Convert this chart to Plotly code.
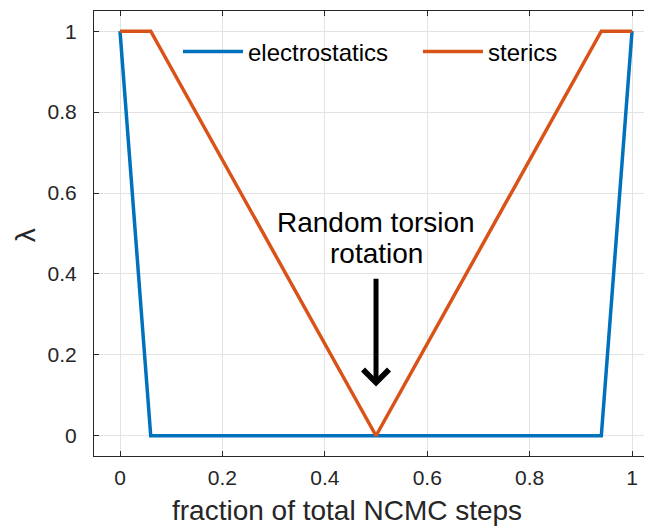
import plotly.graph_objects as go

# fraction of total NCMC steps vs lambda
elec_x = [0, 0.06, 0.94, 1]
elec_y = [1, 0, 0, 1]
ster_x = [0, 0.06, 0.5, 0.94, 1]
ster_y = [1, 1, 0, 1, 1]

tick_vals = [0, 0.2, 0.4, 0.6, 0.8, 1]
tick_text = ["0", "0.2", "0.4", "0.6", "0.8", "1"]

font = "Liberation Sans, Arial, Helvetica, sans-serif"
axis_col = "#262626"

fig = go.Figure()
fig.add_trace(go.Scatter(x=elec_x, y=elec_y, mode="lines", name="electrostatics",
                         line=dict(color="#0072BD", width=3.5), legend="legend"))
fig.add_trace(go.Scatter(x=ster_x, y=ster_y, mode="lines", name="sterics",
                         line=dict(color="#D95319", width=3.5), legend="legend2"))

# arrow + label (two lines, MATLAB spacing)
fig.add_annotation(x=0.5, y=0.122, ax=0.5, ay=0.392, xref="x", yref="y",
                   axref="x", ayref="y", text="", showarrow=True,
                   arrowhead=4, arrowsize=1, arrowwidth=5, arrowcolor="black")
fig.add_annotation(x=0.5, y=0.527, xref="x", yref="y", yanchor="middle",
                   text="Random torsion", showarrow=False,
                   font=dict(family=font, size=28, color="black"))
fig.add_annotation(x=0.5, y=0.451, xref="x", yref="y", yanchor="middle",
                   text="rotation", showarrow=False,
                   font=dict(family=font, size=28, color="black"))

# axis titles
fig.add_annotation(x=0.453, y=-0.122, xref="paper", yref="paper",
                   xanchor="center", yanchor="middle", showarrow=False,
                   text="fraction of total NCMC steps",
                   font=dict(family=font, size=28, color=axis_col))
fig.add_annotation(x=-0.123, y=0.497, xref="paper", yref="paper",
                   xanchor="center", yanchor="middle", showarrow=False,
                   text="λ", textangle=-90,
                   font=dict(family=font, size=28, color=axis_col))

leg = dict(orientation="h", y=0.908, xanchor="left", yanchor="middle",
           bgcolor="rgba(0,0,0,0)", font=dict(size=24, color="black"), itemwidth=60)

# page body has an 8px margin, so the figure is shrunk by 8px
fig.update_layout(
    width=644, height=518,
    margin=dict(l=86, r=0, t=3, b=70),
    plot_bgcolor="white", paper_bgcolor="white",
    font=dict(family=font, size=21, color=axis_col),
    showlegend=True,
    legend=dict(leg, x=0.1505),
    legend2=dict(leg, x=0.5806),
    xaxis=dict(range=[-0.0508, 1.039], tickvals=tick_vals, ticktext=tick_text,
               showgrid=True, gridcolor="#e3e3e3", gridwidth=1, automargin=False,
               showline=True, linecolor=axis_col, linewidth=1, mirror="ticks",
               ticks="inside", ticklen=5, tickcolor=axis_col, zeroline=False,
               tickfont=dict(size=21, color=axis_col), ticklabelstandoff=3),
    yaxis=dict(range=[-0.05, 1.05], tickvals=tick_vals, ticktext=tick_text,
               showgrid=True, gridcolor="#e3e3e3", gridwidth=1, automargin=False,
               showline=True, linecolor=axis_col, linewidth=1, mirror=False,
               ticks="inside", ticklen=5, tickcolor=axis_col, zeroline=False,
               tickfont=dict(size=21, color=axis_col), ticklabelstandoff=12),
)

fig.write_html("out.html")
